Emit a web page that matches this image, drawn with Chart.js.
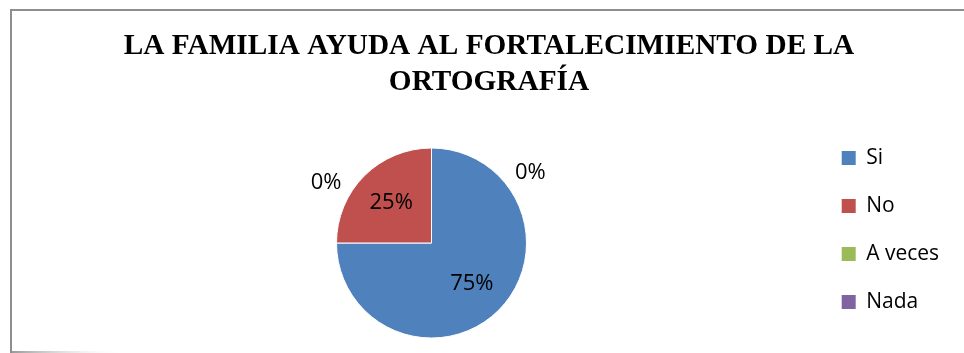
<!DOCTYPE html>
<html>
<head>
<meta charset="utf-8">
<script src="https://cdn.jsdelivr.net/npm/chart.js@4/dist/chart.umd.min.js"></script>
<style>
  html, body { margin: 0; padding: 0; background: #ffffff; }
  canvas { display: block; }
</style>
</head>
<body>
<canvas id="chart" width="964" height="353"></canvas>
<script>
// Chart content
const titleLines = ['LA FAMILIA AYUDA AL FORTALECIMIENTO DE LA', 'ORTOGRAFÍA'];
const categories = ['Si', 'No', 'A veces', 'Nada'];
const percentages = [75, 25, 0, 0];
const sliceColors = ['#4F81BD', '#C0504D', '#9BBB59', '#8064A2'];

// Styling
const FRAME_LEFT = 10;
const FRAME_RIGHT = 968;
const LABEL_FONT = '22px "Open Sans", "Liberation Sans", sans-serif';
const LEGEND_FONT = { family: '"Open Sans", "Liberation Sans", sans-serif', size: 21 };
const LEGEND_BOX = 14;
const LEGEND_PAD = 27;
const PIE_LEFT_PAD = 48.3;
const LEGEND_LEFT = 814.7;

// Grey frame around the chart (top and left edges, fading bottom edge)
const framePlugin = {
  id: 'frame',
  beforeDraw(chart) {
    const ctx = chart.ctx;
    ctx.save();
    ctx.fillStyle = '#ffffff';
    ctx.fillRect(0, 0, chart.width, chart.height);
    ctx.strokeStyle = '#8e8e8e';
    ctx.lineWidth = 2;
    ctx.beginPath();
    ctx.moveTo(FRAME_LEFT + 1, chart.height);
    ctx.lineTo(FRAME_LEFT + 1, 10);
    ctx.lineTo(chart.width, 10);
    ctx.stroke();
    const g = ctx.createLinearGradient(12, 0, 125, 0);
    g.addColorStop(0, '#9a9a9a');
    g.addColorStop(1, 'rgba(255,255,255,0)');
    ctx.strokeStyle = g;
    ctx.beginPath();
    ctx.moveTo(12, chart.height - 1);
    ctx.lineTo(125, chart.height - 1);
    ctx.stroke();
    ctx.restore();
  }
};

// Center the title over the framed area rather than over the padded canvas
const titleSpanPlugin = {
  id: 'titleSpan',
  afterLayout(chart) {
    const t = chart.titleBlock;
    if (t) {
      t.left = FRAME_LEFT;
      t.right = FRAME_RIGHT;
      t.width = FRAME_RIGHT - FRAME_LEFT;
    }
  }
};

// Percentage labels: inside for non-empty slices, outside for empty ones
const sliceLabelsPlugin = {
  id: 'sliceLabels',
  afterDatasetsDraw(chart) {
    const meta = chart.getDatasetMeta(0);
    const values = chart.data.datasets[0].data;
    const ctx = chart.ctx;
    ctx.save();
    ctx.font = LABEL_FONT;
    ctx.fillStyle = '#000000';
    ctx.textAlign = 'center';
    ctx.textBaseline = 'middle';
    let emptyCount = 0;
    meta.data.forEach((arc, i) => {
      const p = arc.getProps(['x', 'y', 'startAngle', 'endAngle', 'outerRadius'], true);
      const mid = (p.startAngle + p.endAngle) / 2;
      let angle = mid;
      let dist = p.outerRadius * 0.6;
      if (values[i] === 0) {
        angle = mid + (emptyCount % 2 === 0 ? 0.95 : -1.05);
        dist = p.outerRadius * 1.28;
        emptyCount++;
      }
      ctx.fillText(values[i] + '%', p.x + Math.cos(angle) * dist, p.y + Math.sin(angle) * dist);
    });
    ctx.restore();
  }
};

function legendLabels(chart) {
  const base = Chart.overrides.pie.plugins.legend.labels.generateLabels(chart);
  return base.map(item => Object.assign(item, { lineWidth: 0, strokeStyle: 'rgba(0,0,0,0)' }));
}

// Width Chart.js will give the vertical legend: padding + widest item + 10
function legendWidth() {
  const c = document.createElement('canvas').getContext('2d');
  c.font = LEGEND_FONT.size + 'px ' + LEGEND_FONT.family;
  const widest = Math.max(...categories.map(s => c.measureText(s).width));
  return LEGEND_PAD + LEGEND_BOX + LEGEND_FONT.size / 2 + widest + 10;
}

function draw() {
  const rightPad = 964 - LEGEND_LEFT - legendWidth();
  new Chart(document.getElementById('chart'), {
    type: 'pie',
    data: {
      labels: categories,
      datasets: [{
        data: percentages,
        backgroundColor: sliceColors,
        borderColor: '#ffffff',
        borderWidth: 1,
        radius: 95
      }]
    },
    options: {
      responsive: false,
      animation: false,
      layout: { padding: { left: PIE_LEFT_PAD, right: rightPad, top: 0, bottom: 13.5 } },
      plugins: {
        title: {
          display: true,
          text: titleLines,
          color: '#000000',
          font: { family: '"Liberation Serif", "Times New Roman", serif', size: 29.3, weight: 'bold', lineHeight: 1.2 },
          padding: { top: 29.3, bottom: 46.9 }
        },
        legend: {
          position: 'right',
          align: 'end',
          fullSize: true,
          labels: {
            color: '#000000',
            font: LEGEND_FONT,
            boxWidth: LEGEND_BOX,
            boxHeight: LEGEND_BOX,
            padding: LEGEND_PAD,
            generateLabels: legendLabels
          }
        },
        tooltip: { enabled: false }
      }
    },
    plugins: [framePlugin, titleSpanPlugin, sliceLabelsPlugin]
  });
}

Promise.all([
  document.fonts.load('bold 29px "Liberation Serif"'),
  document.fonts.load('22px "Open Sans"'),
  document.fonts.load('21px "Open Sans"')
]).then(draw, draw);
</script>
</body>
</html>
